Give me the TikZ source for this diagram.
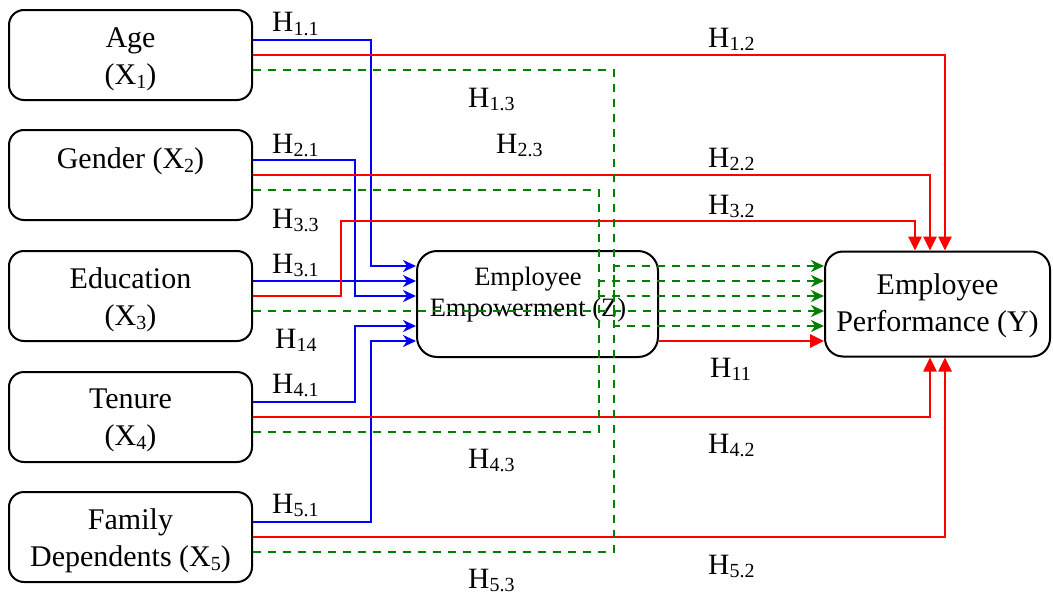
\documentclass[tikz,border=0pt]{standalone}
\usepackage{fontspec}
\setmainfont{Liberation Serif}
\usetikzlibrary{arrows.meta,calc}
\newcommand\sbs[1]{\raisebox{-0.13em}{\fontsize{20}{20}\selectfont #1}}
\definecolor{lnblue}{RGB}{0,0,255}
\definecolor{lnred}{RGB}{255,0,0}
\definecolor{lngreen}{RGB}{0,128,0}
\begin{document}
\begin{tikzpicture}[x=1pt,y=-1pt,
  box/.style={draw=black, line width=2pt, rounded corners=15pt, minimum width=243pt, minimum height=90pt, fill=white, inner sep=0pt},
  zbox/.style={draw=black, line width=2pt, rounded corners=20pt, minimum width=241pt, minimum height=106pt, fill=white, inner sep=0pt},
  ybox/.style={draw=black, line width=2pt, rounded corners=18pt, minimum width=225pt, minimum height=105pt, fill=white, inner sep=0pt},
  txt/.style={inner sep=0pt, align=center, font=\fontsize{30}{37}\selectfont},
  ztxt/.style={inner sep=0pt, align=center, font=\fontsize{26.5}{31}\selectfont},
  hl/.style={anchor=base west, inner sep=0pt, font=\fontsize{29.5}{35}\selectfont},
  bl/.style={draw=lnblue, line width=2.6pt, -{Stealth[length=13pt,width=12pt,inset=4pt]}},
  rd/.style={draw=lnred, line width=2.6pt, -{Triangle[length=14pt,width=13pt]}},
  gn/.style={draw=lngreen, line width=2.6pt, dash pattern=on 8pt off 7pt, -{Stealth[length=13pt,width=12pt,inset=4pt]}}
]
\useasboundingbox (0,0) rectangle (1053,597);

% boxes
\node[box] (x1) at (130.5,55) {};
\node[txt] (x1t) at (130.5,59) {Age\\(X\sbs{1})};
\node[box] (x2) at (130.5,175) {};
\node[txt] (x2t) at (130.5,161) {Gender (X\sbs{2})};
\node[box] (x3) at (130.5,296) {};
\node[txt] (x3t) at (130.5,300) {Education\\(X\sbs{3})};
\node[box] (x4) at (130.5,417) {};
\node[txt] (x4t) at (130.5,420.5) {Tenure\\(X\sbs{4})};
\node[box] (x5) at (130.5,537) {};
\node[txt] (x5t) at (130.5,541) {Family\\Dependents (X\sbs{5})};
\node[zbox] (z) at (537.5,304) {};
\node[ztxt] (zt) at (528,294.5) {Employee\\Empowerment (Z)};
\node[ybox] (y) at (937.5,304) {};
\node[txt] (yt) at (937.5,306) {Employee\\Performance (Y)};

% blue: X -> Z
\draw[bl] ($(x1.east)+(0,-15)$) -| ($(z.west)+(-45,-38)$) -- ($(z.west)+(0,-38)$);
\draw[bl] ($(x2.east)+(0,-15)$) -| ($(z.west)+(-61,-8)$) -- ($(z.west)+(0,-8)$);
\draw[bl] ($(x3.east)+(0,-15)$) -- ($(z.west)+(0,-23)$);
\draw[bl] ($(x4.east)+(0,-15)$) -| ($(z.west)+(-61,22)$) -- ($(z.west)+(0,22)$);
\draw[bl] ($(x5.east)+(0,-15)$) -| ($(z.west)+(-45,37)$) -- ($(z.west)+(0,37)$);

% red: X -> Y, Z -> Y
\draw[rd] (x1.east) -| ($(y.north)+(7.5,0)$);
\draw[rd] (x2.east) -| ($(y.north)+(-7.5,0)$);
\draw[rd] (x3.east) -| ($(z.west)+(-75,-83)$) -| ($(y.north)+(-22.5,0)$);
\draw[rd] (x4.east) -| ($(y.south)+(-7.5,0)$);
\draw[rd] (x5.east) -| ($(y.south)+(7.5,0)$);
\draw[rd] ($(z.east)+(0,37)$) -- ($(y.west)+(0,37)$);

% green dashed: X -> Y (mediated)
\draw[gn] ($(x1.east)+(0,15)$) -| ($(z.east)+(-45,22)$) -- ($(y.west)+(0,22)$);
\draw[gn] ($(x2.east)+(0,15)$) -| ($(z.east)+(-60,-8)$) -- ($(y.west)+(0,-8)$);
\draw[gn] ($(x3.east)+(0,15)$) -- ($(y.west)+(0,7)$);
\draw[gn] ($(x4.east)+(0,15)$) -| ($(z.east)+(-60,-23)$) -- ($(y.west)+(0,-23)$);
\draw[gn] ($(x5.east)+(0,15)$) -| ($(z.east)+(-45,-38)$) -- ($(y.west)+(0,-38)$);

% labels
\node[hl] (l11) at (272,31.7) {H\sbs{1.1}};
\node[hl] (l12) at (708,47) {H\sbs{1.2}};
\node[hl] (l13) at (468,107) {H\sbs{1.3}};
\node[hl] (l21) at (272,153) {H\sbs{2.1}};
\node[hl] (l23) at (496,153) {H\sbs{2.3}};
\node[hl] (l22) at (708,167) {H\sbs{2.2}};
\node[hl] (l32) at (708,214) {H\sbs{3.2}};
\node[hl] (l33) at (272,228) {H\sbs{3.3}};
\node[hl] (l31) at (272,273) {H\sbs{3.1}};
\node[hl] (l14) at (275,348) {H\sbs{14}};
\node[hl] (l1111) at (710,377) {H\sbs{11}};
\node[hl] (l41) at (272,393) {H\sbs{4.1}};
\node[hl] (l42) at (708,453) {H\sbs{4.2}};
\node[hl] (l43) at (468,468) {H\sbs{4.3}};
\node[hl] (l51) at (272,513) {H\sbs{5.1}};
\node[hl] (l52) at (708,574) {H\sbs{5.2}};
\node[hl] (l53) at (468,588) {H\sbs{5.3}};
\end{tikzpicture}
\end{document}
